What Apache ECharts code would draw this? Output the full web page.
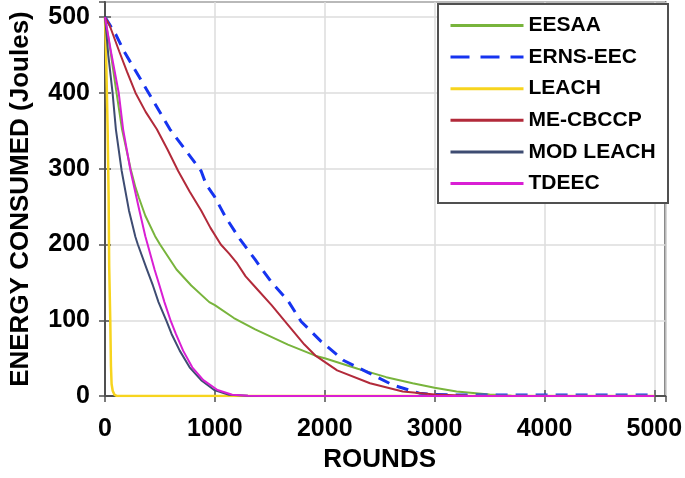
<!DOCTYPE html>
<html>
<head>
<meta charset="utf-8">
<script src="https://cdn.jsdelivr.net/npm/echarts@6/dist/echarts.min.js"></script>
<style>html,body{margin:0;padding:0;background:#fff}#chart{width:685px;height:478px}</style>
</head>
<body>
<div id="chart"></div>
<script>
// ---- data ----
const seriesNames = ['EESAA', 'ERNS-EEC', 'LEACH', 'ME-CBCCP', 'MOD LEACH', 'TDEEC'];

const eesaaRounds = [0, 50, 100, 155, 233, 278, 308, 367, 456, 501, 651, 785, 949, 1000, 1173, 1367, 1665, 1920, 2000, 2300, 2560, 2800, 3000, 3200, 3500, 3700, 4000, 5000];
const eesaaEnergy = [500, 455, 405, 352, 300, 275, 262, 238, 211, 200, 167, 146, 124, 120, 103, 88, 68, 53, 50, 36, 25, 17, 11, 6, 2, 0.5, 0, 0];

const ernsRounds = [0, 99, 173, 397, 591, 875, 921, 994, 1098, 1233, 1367, 1516, 1665, 1785, 1964, 2173, 2382, 2620, 2860, 3000, 3200, 5000];
const ernsEnergy = [500, 477, 455, 400, 352, 297, 279, 264, 236, 206, 180, 150, 126, 98.5, 72.6, 47, 32, 14.6, 3.9, 2, 1.5, 1.5];

const leachRounds = [0, 10, 24, 33, 38, 48, 54, 60, 70, 85, 110, 5000];
const leachEnergy = [500, 450, 352, 262, 172, 100, 40, 16, 7, 2, 0, 0];

const mecbRounds = [0, 40, 129, 200, 278, 370, 472, 570, 666, 770, 875, 960, 1054, 1130, 1203, 1280, 1367, 1516, 1665, 1815, 1919, 2113, 2412, 2710, 3000, 3300, 3600, 5000];
const mecbEnergy = [500, 490, 455, 428, 400, 375, 352, 325, 297, 270, 245, 222, 200, 188, 175, 158, 144, 120, 94, 68, 53, 34, 17, 6, 2, 0.5, 0, 0];

const modRounds = [0, 30, 69, 99, 152, 218, 277, 299, 382, 436, 487, 561, 606, 680, 770, 875, 994, 1128, 1300, 1500, 5000];
const modEnergy = [500, 450, 400, 352, 297, 245, 210, 200, 167, 146, 124, 98.5, 82, 60, 38, 21, 8, 1.7, 0.3, 0, 0];

const tdeecRounds = [0, 60, 125, 165, 233, 313, 367, 388, 451, 496, 541, 600, 645, 711, 794, 895, 1024, 1158, 1300, 1500, 5000];
const tdeecEnergy = [500, 450, 400, 352, 297, 245, 211, 200, 167, 146, 124, 98.5, 82, 60, 38, 21, 8, 1.7, 0.4, 0, 0];

const xTicks = [0, 1000, 2000, 3000, 4000, 5000];
const yTicks = [0, 100, 200, 300, 400, 500];

// ---- build chart ----
function zip(xs, ys) { return xs.map((x, i) => [x, ys[i]]); }
const colors = ['#78b43c', '#1634f0', '#f7d41e', '#b22a3a', '#3e4c72', '#d91fd4'];
const allData = [
  zip(eesaaRounds, eesaaEnergy),
  zip(ernsRounds, ernsEnergy),
  zip(leachRounds, leachEnergy),
  zip(mecbRounds, mecbEnergy),
  zip(modRounds, modEnergy),
  zip(tdeecRounds, tdeecEnergy)
];
const FONT = '"Liberation Sans", Arial, sans-serif';
const frame = '#505050';

const series = seriesNames.map((name, i) => ({
  name: name,
  type: 'line',
  xAxisIndex: 0,
  yAxisIndex: 0,
  data: allData[i],
  symbol: 'none',
  smooth: false,
  color: colors[i],
  lineStyle: {
    color: colors[i],
    width: i === 1 ? 3 : (i === 2 ? 2.5 : 2),
    type: i === 1 ? [12, 8] : 'solid'
  },
  z: 2 + i
}));

const chart = echarts.init(document.getElementById('chart'), null, { renderer: 'canvas' });
chart.setOption({
  animation: false,
  backgroundColor: '#fff',
  grid: { left: 97, right: 18, top: 2, bottom: 75, show: true, borderColor: frame, borderWidth: 2, backgroundColor: 'transparent' },
  xAxis: [{
    type: 'value', min: 0, max: 5100, interval: 1000,
    name: 'ROUNDS', nameLocation: 'middle', nameGap: 50,
    nameTextStyle: { fontFamily: FONT, fontWeight: 'bold', fontSize: 26, color: '#000', padding: [0, 11, 0, 0] },
    axisLine: { show: true, lineStyle: { color: frame, width: 2 } },
    axisTick: { show: true, inside: true, length: 6, lineStyle: { color: frame, width: 1.5 } },
    axisLabel: { fontFamily: FONT, fontWeight: 'bold', fontSize: 25, color: '#000', margin: 21, showMaxLabel: false,
      formatter: v => xTicks.indexOf(v) >= 0 ? String(v) : '' },
    splitLine: { show: true, lineStyle: { color: '#dcdcdc', width: 1.5 } }
  }, {
    type: 'value', min: 0, max: 5100, interval: 1000, position: 'top',
    axisLine: { show: false }, axisLabel: { show: false }, splitLine: { show: false },
    axisTick: { show: true, inside: true, length: 6, lineStyle: { color: frame, width: 1.5 } }
  }],
  yAxis: [{
    type: 'value', min: 0, max: 520, interval: 100,
    name: 'ENERGY CONSUMED (Joules)', nameLocation: 'middle', nameGap: 71,
    nameTextStyle: { fontFamily: FONT, fontWeight: 'bold', fontSize: 26, color: '#000' },
    axisLine: { show: true, lineStyle: { color: frame, width: 2 } },
    axisTick: { show: true, inside: true, length: 6, lineStyle: { color: frame, width: 1.5 } },
    axisLabel: { fontFamily: FONT, fontWeight: 'bold', fontSize: 25, color: '#000', margin: 15, showMaxLabel: false,
      formatter: v => yTicks.indexOf(v) >= 0 ? String(v) : '' },
    splitLine: { show: true, lineStyle: { color: '#dcdcdc', width: 1.5 } }
  }, {
    type: 'value', min: 0, max: 520, interval: 100, position: 'right',
    axisLine: { show: false }, axisLabel: { show: false }, splitLine: { show: false },
    axisTick: { show: true, inside: true, length: 6, lineStyle: { color: frame, width: 1.5 } }
  }],
  legend: {
    orient: 'vertical', left: 449, top: 15, padding: 0, z: 10,
    itemWidth: 73, itemHeight: 14, itemGap: 10.6,
    textStyle: { fontFamily: FONT, fontWeight: 'bold', fontSize: 21, color: '#000', lineHeight: 21 },
    data: seriesNames.map((n, i) => ({
      name: n,
      itemStyle: { opacity: 0 },
      lineStyle: { color: colors[i], width: 3, type: i === 1 ? [19, 11] : 'solid' }
    }))
  },
  graphic: [{
    type: 'rect', left: 437, top: 3, z: 5,
    shape: { width: 230, height: 199 },
    style: { fill: '#fff', stroke: frame, lineWidth: 2 }
  }],
  series: series
});
</script>
</body>
</html>
